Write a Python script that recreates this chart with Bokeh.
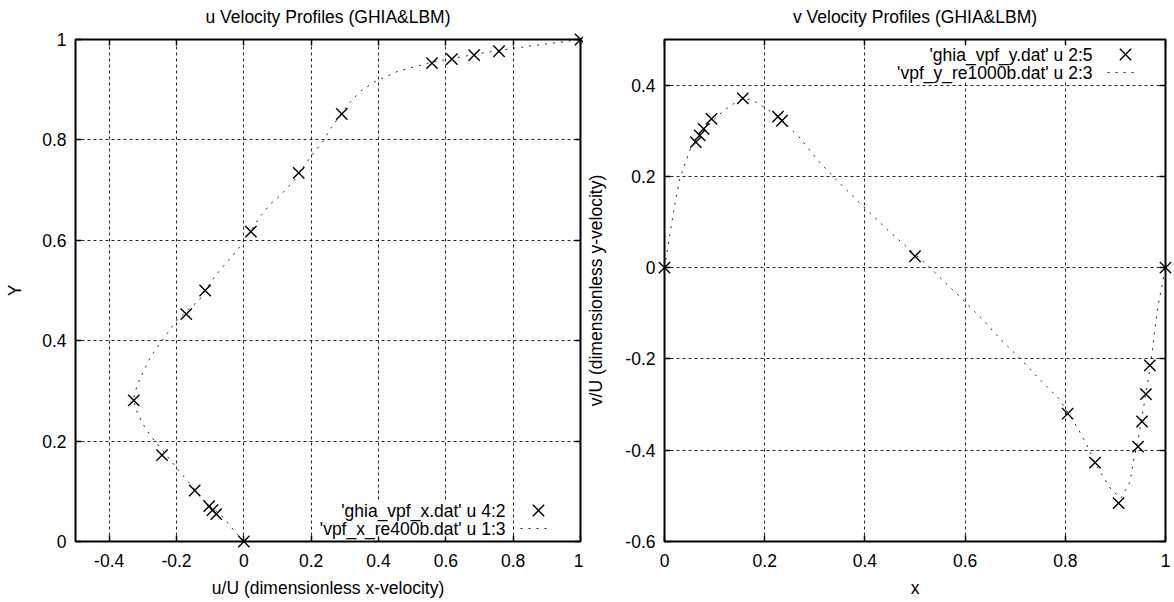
from bokeh.plotting import figure
from bokeh.models import (Range1d, FixedTicker, LinearAxis, Label, Legend,
                          LegendItem, BoxAnnotation)
from bokeh.layouts import row
from bokeh.embed import file_html
from bokeh.resources import INLINE

FONT = "Liberation Sans"
FS = "17.5px"

# ---------------- data: u velocity (vertical centreline) ----------------
ghia_u = [1.0, 0.758, 0.684, 0.618, 0.559, 0.291, 0.163, 0.021, -0.115,
          -0.171, -0.327, -0.243, -0.146, -0.103, -0.093, -0.082, 0.0]
ghia_uy = [1.0, 0.9766, 0.9688, 0.9609, 0.9531, 0.8516, 0.7344, 0.6172, 0.5,
           0.4531, 0.2813, 0.1719, 0.1016, 0.0703, 0.0625, 0.0547, 0.0]
lbm_u = [0.0, -0.032, -0.065, -0.110, -0.154, -0.188, -0.243, -0.277, -0.299,
         -0.316, -0.328, -0.322, -0.310, -0.277, -0.227, -0.199, -0.165,
         -0.132, -0.115, -0.087, -0.054, -0.020, 0.002, 0.047, 0.080, 0.110,
         0.150, 0.200, 0.236, 0.260, 0.314, 0.348, 0.392, 0.459, 0.560, 0.700,
         0.805, 1.0]
lbm_uy = [0.0, 0.024, 0.051, 0.077, 0.110, 0.137, 0.183, 0.210, 0.233, 0.256,
          0.282, 0.300, 0.322, 0.368, 0.415, 0.441, 0.462, 0.481, 0.500,
          0.527, 0.554, 0.580, 0.600, 0.646, 0.673, 0.690, 0.720, 0.768,
          0.798, 0.825, 0.874, 0.898, 0.917, 0.937, 0.955, 0.972, 0.983, 1.0]

# ---------------- data: v velocity (horizontal centreline) ----------------
ghia_x = [1.0, 0.9688, 0.9609, 0.9531, 0.9453, 0.9063, 0.8594, 0.8047, 0.5,
          0.2344, 0.2266, 0.1563, 0.0938, 0.0781, 0.0703, 0.0625, 0.0]
ghia_v = [0.0, -0.214, -0.277, -0.337, -0.392, -0.516, -0.427, -0.320, 0.025,
          0.322, 0.331, 0.371, 0.326, 0.304, 0.290, 0.275, 0.0]
lbm_x = [0.0, 0.011, 0.022, 0.030, 0.041, 0.052, 0.067, 0.097, 0.119, 0.149,
         0.171, 0.193, 0.223, 0.268, 0.312, 0.357, 0.401, 0.446, 0.483, 0.528,
         0.572, 0.632, 0.669, 0.706, 0.743, 0.788, 0.818, 0.840, 0.862, 0.892,
         0.911, 0.929, 0.937, 0.948, 0.959, 0.970, 0.978, 0.985, 0.993, 1.0]
lbm_v = [0.0, 0.075, 0.148, 0.192, 0.228, 0.261, 0.287, 0.323, 0.345, 0.367,
         0.369, 0.356, 0.334, 0.287, 0.228, 0.177, 0.130, 0.082, 0.046, 0.002,
         -0.045, -0.110, -0.155, -0.195, -0.238, -0.288, -0.339, -0.382,
         -0.434, -0.487, -0.505, -0.470, -0.419, -0.361, -0.288, -0.215,
         -0.142, -0.083, -0.040, 0.0]

# ---------------- ticks ----------------
u_ticks = [-0.4, -0.2, 0.0, 0.2, 0.4, 0.6, 0.8, 1.0]
u_labels = ["-0.4", "-0.2", "0", "0.2", "0.4", "0.6", "0.8", "1"]
uy_ticks = [0.0, 0.2, 0.4, 0.6, 0.8, 1.0]
uy_labels = ["0", "0.2", "0.4", "0.6", "0.8", "1"]
x_ticks = [0.0, 0.2, 0.4, 0.6, 0.8, 1.0]
x_labels = ["0", "0.2", "0.4", "0.6", "0.8", "1"]
v_ticks = [-0.6, -0.4, -0.2, 0.0, 0.2, 0.4]
v_labels = ["-0.6", "-0.4", "-0.2", "0", "0.2", "0.4"]

legend_left = ["'ghia_vpf_x.dat' u 4:2", "'vpf_x_re400b.dat' u 1:3"]
legend_right = ["'ghia_vpf_y.dat' u 2:5", "'vpf_y_re1000b.dat' u 2:3"]

H = 600


def base_axis(ax):
    ax.major_tick_in = 6
    ax.major_tick_out = 0
    ax.major_tick_line_width = 1.5
    ax.major_tick_line_color = "black"
    ax.minor_tick_in = 6
    ax.minor_tick_out = 0
    ax.minor_tick_line_width = 1.5
    ax.minor_tick_line_color = "black"
    ax.axis_line_color = None
    ax.major_label_text_font = FONT
    ax.major_label_text_font_size = FS
    ax.major_label_text_color = "black"
    ax.axis_label_text_font = FONT
    ax.axis_label_text_font_size = FS
    ax.axis_label_text_font_style = "normal"
    ax.axis_label_text_color = "black"


def style_axis(ax, ticks, labels):
    base_axis(ax)
    ax.ticker = FixedTicker(ticks=ticks, minor_ticks=[])
    ax.major_label_overrides = {t: l for t, l in zip(ticks, labels)}


def mirror_axis(ticks):
    # ticks only (drawn as minor ticks, which carry no labels)
    ax = LinearAxis()
    base_axis(ax)
    ax.ticker = FixedTicker(ticks=[], minor_ticks=ticks)
    ax.major_label_standoff = 0
    return ax


def make_panel(title, xr, yr, xt, xl, yt, yl, xlabel, ylabel, width,
               mbl, mbr, ylab_standoff):
    p = figure(width=width, height=H, x_range=Range1d(*xr),
               y_range=Range1d(*yr), output_backend="svg",
               toolbar_location=None, min_border_left=mbl,
               min_border_right=mbr, min_border_top=39, min_border_bottom=57)
    p.outline_line_color = "black"
    p.outline_line_width = 2
    p.background_fill_color = "white"
    p.border_fill_color = "white"

    style_axis(p.xaxis[0], xt, xl)
    p.xaxis[0].axis_label = xlabel
    p.xaxis[0].major_label_standoff = 12
    p.xaxis[0].axis_label_standoff = 8
    style_axis(p.yaxis[0], yt, yl)
    p.yaxis[0].axis_label = ylabel
    p.yaxis[0].major_label_standoff = 9
    p.yaxis[0].axis_label_standoff = ylab_standoff

    # top mirror axis carries the chart title (gnuplot style, centred)
    top = mirror_axis(xt)
    top.axis_label = title
    top.axis_label_standoff = 13
    p.add_layout(top, "above")
    p.add_layout(mirror_axis(yt), "right")

    for g, t in ((p.xgrid, xt), (p.ygrid, yt)):
        g.ticker = FixedTicker(ticks=t, minor_ticks=[])
        g.grid_line_color = "black"
        g.grid_line_alpha = 0.85
        g.grid_line_width = 1
        g.grid_line_dash = "3 3"
    return p


# ---------------- left panel ----------------
p1 = make_panel("u Velocity Profiles (GHIA&LBM)", (-0.5, 1.0), (0.0, 1.0),
                u_ticks, u_labels, uy_ticks, uy_labels,
                "u/U (dimensionless x-velocity)", "Y", 583, 75, 3, 14)
l1 = p1.line(lbm_u, lbm_uy, line_color="#111111", line_width=0.9,
             line_dash="2 6")
s1 = p1.scatter(ghia_u, ghia_uy, marker="x", size=16, line_color="black",
                line_width=1.4, level="overlay")

# ---------------- right panel ----------------
p2 = make_panel("v Velocity Profiles (GHIA&LBM)", (0.0, 1.0), (-0.6, 0.5),
                x_ticks, x_labels, v_ticks, v_labels,
                "x", "v/U (dimensionless y-velocity)", 589, 79, 7, 16)
l2 = p2.line(lbm_x, lbm_v, line_color="#111111", line_width=0.9,
             line_dash="2 6")
s2 = p2.scatter(ghia_x, ghia_v, marker="x", size=16, line_color="black",
                line_width=1.4, level="overlay")


def add_key(p, texts, s_r, l_r, text_x, row1_y, mark_x, box_w):
    # opaque area behind the key texts (hides the grid there)
    p.add_layout(BoxAnnotation(left=text_x - box_w, right=text_x + 2,
                               bottom=row1_y - 18 - 8, top=row1_y + 9,
                               left_units="screen", right_units="screen",
                               bottom_units="screen", top_units="screen",
                               fill_color="white", fill_alpha=1.0,
                               line_color=None, line_alpha=0))
    # gnuplot-style key: right-aligned text, sample to its right
    for i, t in enumerate(texts):
        p.add_layout(Label(x=text_x, y=row1_y - 18 * i, x_units="screen",
                           y_units="screen", text=t, text_align="right",
                           text_baseline="middle", text_font=FONT,
                           text_font_size=FS, text_color="black"))
    lg_m = Legend(items=[LegendItem(label=" ", renderers=[s_r])],
                  location=(mark_x - 20, row1_y - 20), glyph_width=40,
                  glyph_height=40, padding=0, margin=0, spacing=0,
                  label_standoff=0, label_text_font_size="1px",
                  background_fill_alpha=0, border_line_alpha=0)
    lg_l = Legend(items=[LegendItem(label=" ", renderers=[l_r])],
                  location=(mark_x - 18, row1_y - 18 - 9), glyph_width=32,
                  glyph_height=18, padding=0, margin=0, spacing=0,
                  label_standoff=0, label_text_font_size="1px",
                  background_fill_alpha=0, border_line_alpha=0)
    p.add_layout(lg_m)
    p.add_layout(lg_l)


add_key(p1, legend_left, s1, l1, 430, 31, 463, 190)
add_key(p2, legend_right, s2, l2, 428, 487, 461, 200)

layout = row(p1, p2)
open("out.html", "w").write(file_html(layout, INLINE))
